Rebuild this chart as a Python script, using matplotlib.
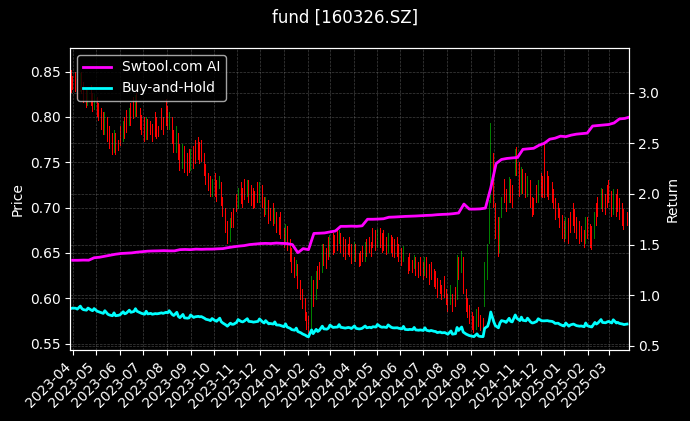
import matplotlib
matplotlib.use("Agg")
from matplotlib import pyplot as plt
import matplotlib.dates as mdates
import numpy as np
import pandas as pd

plt.style.use("dark_background")

# candle opens / closes, one every two trading days, grouped by month
opens = [
    0.852, 0.845,
    0.850, 0.842, 0.828, 0.850, 0.838, 0.832, 0.812, 0.835, 0.826, 0.808, 0.822,
    0.815, 0.810, 0.805, 0.780, 0.800, 0.790, 0.782, 0.760, 0.782, 0.775,
    0.790, 0.772, 0.800, 0.808, 0.790, 0.815, 0.822, 0.800, 0.826, 0.810, 0.802,
    0.800, 0.774, 0.798, 0.795, 0.792, 0.805, 0.800, 0.790, 0.810, 0.800,
    0.820, 0.812, 0.785, 0.800, 0.785, 0.760, 0.782, 0.770, 0.742, 0.768, 0.760,
    0.765, 0.740, 0.768, 0.775, 0.778, 0.772, 0.775, 0.760, 0.748, 0.738,
    0.735, 0.712, 0.738, 0.730, 0.720, 0.728, 0.712, 0.700, 0.685, 0.662, 0.695,
    0.700, 0.715, 0.698, 0.728, 0.722, 0.732, 0.712, 0.730, 0.725, 0.722, 0.718,
    0.728, 0.705, 0.725, 0.712, 0.692, 0.708, 0.700, 0.705, 0.682, 0.695, 0.690,
    0.695, 0.678, 0.660, 0.680, 0.665, 0.655, 0.645, 0.625, 0.638, 0.620, 0.610,
    0.600, 0.585, 0.580, 0.562, 0.620, 0.598, 0.635, 0.640, 0.628, 0.660, 0.655,
    0.668, 0.645, 0.672, 0.670, 0.675, 0.660, 0.672, 0.668, 0.665, 0.660,
    0.667, 0.660, 0.640, 0.660, 0.650, 0.652, 0.658, 0.640, 0.665, 0.668, 0.662,
    0.678, 0.675, 0.655, 0.678, 0.672, 0.675, 0.668, 0.650, 0.670, 0.667, 0.665,
    0.667, 0.660, 0.655, 0.640, 0.650, 0.645, 0.650, 0.642, 0.632, 0.645, 0.640,
    0.645, 0.640, 0.625, 0.645, 0.638, 0.640, 0.632, 0.630, 0.622, 0.620, 0.615,
    0.625, 0.610, 0.605, 0.592, 0.605, 0.612, 0.598, 0.645, 0.628, 0.645, 0.610,
    0.600, 0.592, 0.585, 0.580, 0.565, 0.590, 0.582, 0.578, 0.590, 0.620, 0.660,
    0.705, 0.760, 0.705, 0.690, 0.650, 0.688, 0.732, 0.720, 0.705, 0.732, 0.725,
    0.735, 0.767, 0.750, 0.715, 0.742, 0.738, 0.712, 0.730, 0.712, 0.710,
    0.725, 0.705, 0.738, 0.735, 0.771, 0.740, 0.735, 0.728, 0.720, 0.711, 0.705,
    0.700, 0.692, 0.685, 0.665, 0.688, 0.695, 0.705, 0.698, 0.690, 0.685, 0.680,
    0.675, 0.660, 0.690, 0.682, 0.680, 0.665, 0.705, 0.712, 0.698, 0.720, 0.715,
    0.725, 0.730, 0.718, 0.692, 0.715, 0.720, 0.710, 0.705, 0.698, 0.695,
]
closes = [
    0.826, 0.830,
    0.828, 0.820, 0.848, 0.825, 0.815, 0.810, 0.830, 0.812, 0.805, 0.825, 0.800,
    0.795, 0.785, 0.780, 0.805, 0.772, 0.765, 0.758, 0.785, 0.758, 0.762,
    0.768, 0.795, 0.776, 0.782, 0.810, 0.790, 0.798, 0.824, 0.800, 0.786, 0.780,
    0.772, 0.800, 0.775, 0.780, 0.772, 0.778, 0.776, 0.778, 0.785, 0.780,
    0.790, 0.785, 0.805, 0.770, 0.760, 0.790, 0.752, 0.740, 0.770, 0.738, 0.735,
    0.738, 0.765, 0.742, 0.748, 0.752, 0.748, 0.750, 0.735, 0.725, 0.718,
    0.712, 0.732, 0.712, 0.706, 0.735, 0.702, 0.690, 0.672, 0.660, 0.688, 0.678,
    0.678, 0.695, 0.722, 0.704, 0.700, 0.708, 0.730, 0.705, 0.702, 0.698, 0.700,
    0.705, 0.728, 0.700, 0.690, 0.712, 0.682, 0.685, 0.680, 0.700, 0.672, 0.670,
    0.665, 0.655, 0.682, 0.652, 0.640, 0.628, 0.622, 0.642, 0.610, 0.598, 0.588,
    0.575, 0.565, 0.561, 0.625, 0.590, 0.630, 0.610, 0.620, 0.660, 0.635, 0.632,
    0.642, 0.670, 0.648, 0.650, 0.652, 0.675, 0.650, 0.645, 0.642, 0.648,
    0.645, 0.638, 0.662, 0.640, 0.634, 0.636, 0.640, 0.662, 0.645, 0.650, 0.645,
    0.655, 0.652, 0.676, 0.655, 0.650, 0.652, 0.648, 0.672, 0.650, 0.645, 0.644,
    0.645, 0.640, 0.635, 0.658, 0.630, 0.627, 0.630, 0.628, 0.648, 0.625, 0.622,
    0.625, 0.620, 0.645, 0.622, 0.615, 0.620, 0.612, 0.610, 0.600, 0.605, 0.598,
    0.600, 0.592, 0.585, 0.615, 0.585, 0.590, 0.648, 0.620, 0.652, 0.605, 0.585,
    0.578, 0.572, 0.565, 0.562, 0.588, 0.568, 0.564, 0.562, 0.640, 0.660, 0.708,
    0.793, 0.700, 0.665, 0.645, 0.690, 0.712, 0.705, 0.695, 0.734, 0.705, 0.700,
    0.765, 0.735, 0.712, 0.745, 0.715, 0.710, 0.735, 0.700, 0.690, 0.692,
    0.705, 0.730, 0.712, 0.710, 0.710, 0.712, 0.708, 0.705, 0.698, 0.686, 0.688,
    0.678, 0.665, 0.662, 0.690, 0.660, 0.672, 0.680, 0.672, 0.665, 0.660, 0.662,
    0.655, 0.690, 0.665, 0.655, 0.653, 0.695, 0.680, 0.690, 0.722, 0.695, 0.692,
    0.700, 0.705, 0.690, 0.720, 0.690, 0.695, 0.686, 0.680, 0.675, 0.680,
]

# weekly strategy equity (Fridays)
strategy = [
    1.345, 1.345, 1.347, 1.346, 1.370,
    1.375, 1.385, 1.395, 1.405, 1.412,
    1.415, 1.418, 1.425, 1.430, 1.435, 1.437, 1.438,
    1.440, 1.438, 1.438,
    1.450, 1.452, 1.450, 1.455, 1.453, 1.455, 1.455, 1.458, 1.460,
    1.470, 1.478, 1.485, 1.490, 1.500, 1.505, 1.510,
    1.512, 1.510, 1.515, 1.512, 1.510, 1.500,
    1.420, 1.460, 1.450,
    1.610, 1.612, 1.615, 1.625, 1.634,
    1.680, 1.680, 1.682, 1.680, 1.685,
    1.750, 1.750, 1.752, 1.755,
    1.770, 1.772, 1.775, 1.778, 1.780, 1.782, 1.785, 1.788, 1.790, 1.795, 1.798,
    1.800, 1.805, 1.812, 1.900, 1.850, 1.850, 1.852, 1.860,
    2.060, 2.300, 2.340, 2.350, 2.355, 2.360,
    2.440, 2.445, 2.450, 2.480, 2.500,
    2.540, 2.550, 2.570, 2.565, 2.580, 2.590, 2.595, 2.600,
    2.670, 2.675, 2.680, 2.685, 2.700, 2.740, 2.745, 2.760,
]

bh_base = 0.95  # buy-and-hold reference price

dates = pd.bdate_range("2023-03-29", periods=len(closes), freq="2B")
strat_dates = pd.date_range("2023-03-31", periods=len(strategy), freq="W-FRI")

o = np.array(opens)
c = np.array(closes)
colors = np.where(c >= o, "#008000", "#ff0000")
buy_hold = c / bh_base

fig, ax = plt.subplots(figsize=(6.9, 4.21), dpi=100)
fig.subplots_adjust(left=0.102, right=0.911, top=0.886, bottom=0.168)

ax.bar(dates, c - o, bottom=o, width=1.3, color=colors, linewidth=0)
ax.set_ylim(0.5426, 0.876)
ax.set_ylabel("Price")
ax.grid(True, ls="--", lw=0.5, color="gray", alpha=0.5)

ax2 = ax.twinx()
ax2.plot(strat_dates, strategy, color="#ff00ff", lw=2, label="Swtool.com AI")
ax2.plot(dates, buy_hold, color="#00ffff", lw=2, label="Buy-and-Hold")
ax2.set_ylim(0.457, 3.44)
ax2.set_ylabel("Return")
ax2.grid(True, ls="--", lw=0.5, color="gray", alpha=0.5)
ax2.legend(loc="upper left")

ax.set_xlim(pd.Timestamp("2023-03-28"), pd.Timestamp("2025-03-26"))
ax.xaxis.set_major_locator(mdates.MonthLocator())
ax.xaxis.set_major_formatter(mdates.DateFormatter("%Y-%m"))
plt.setp(ax.get_xticklabels(), rotation=45, ha="right")

fig.suptitle("fund [160326.SZ]")
fig.savefig("out.png", dpi=100)
